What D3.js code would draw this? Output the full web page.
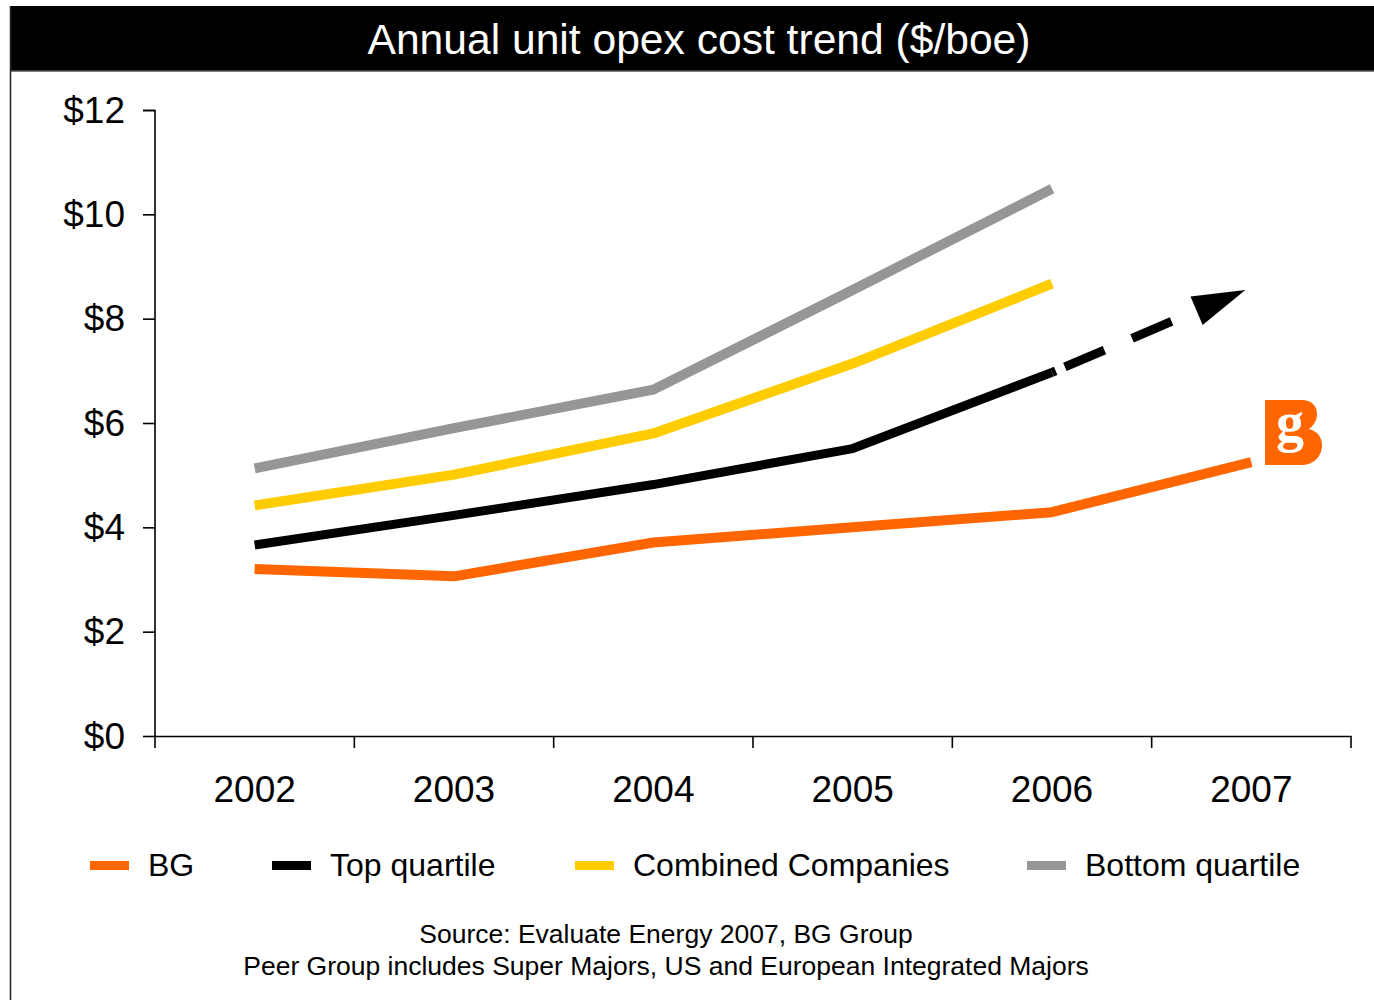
<!DOCTYPE html>
<html>
<head>
<meta charset="utf-8">
<script src="https://cdn.jsdelivr.net/npm/d3@7"></script>
<style>
  html, body { margin: 0; padding: 0; background: #fff; }
  svg { display: block; font-family: "Liberation Sans", Arial, sans-serif; }
</style>
</head>
<body>
<svg id="chart" width="1374" height="1000"></svg>
<script>
// ---- data ----
const years = ["2002", "2003", "2004", "2005", "2006", "2007"];
const yTickValues = [0, 2, 4, 6, 8, 10, 12];
const bgValues = [3.20, 3.06, 3.71, 4.00, 4.29, 5.25];
const topQuartileValues = [3.66, 4.23, 4.82, 5.51, 6.97];
const topQuartileProjection = [6.97, 8.55];   // 2006 -> 2007 (dashed arrow)
const combinedValues = [4.42, 5.01, 5.80, 7.14, 8.67];
const bottomQuartileValues = [5.13, 5.90, 6.64, 8.55, 10.49];
const seriesNames = ["BG", "Top quartile", "Combined Companies", "Bottom quartile"];
const seriesColors = ["#FF6600", "#000000", "#FFCC00", "#969696"];
const titleText = "Annual unit opex cost trend ($/boe)";
const sourceLines = ["Source: Evaluate Energy 2007, BG Group",
                     "Peer Group includes Super Majors, US and European Integrated Majors"];

const svg = d3.select("#chart");

// frame & title bar
svg.append("rect").attr("x", 10).attr("y", 6).attr("width", 1364).attr("height", 65).attr("fill", "#000");
svg.append("line").attr("x1", 10).attr("x2", 1374).attr("y1", 71).attr("y2", 71).attr("stroke", "#555").attr("stroke-width", 1.5);
svg.append("line").attr("x1", 10.5).attr("x2", 10.5).attr("y1", 6).attr("y2", 1000).attr("stroke", "#222").attr("stroke-width", 1.5);
svg.append("text").attr("x", 699).attr("y", 54).attr("text-anchor", "middle")
  .attr("fill", "#fff").attr("font-size", 42.6).text(titleText);

// scales
const x = d3.scaleBand().domain(years).range([155, 1351]).padding(0);
const y = d3.scaleLinear().domain([0, 12]).range([736, 110]);
const cx = d => x(d) + x.bandwidth() / 2;

// y axis
const yAxis = svg.append("g").attr("transform", "translate(155,0)")
  .call(d3.axisLeft(y).tickValues(yTickValues).tickSize(12).tickPadding(18).tickFormat(d => "$" + d));
yAxis.select(".domain").attr("stroke", "#000").attr("stroke-width", 1.6).attr("d", "M-12,110.5H0V736");
yAxis.selectAll(".tick line").attr("stroke", "#000").attr("stroke-width", 1.6);
yAxis.selectAll(".tick text").attr("font-size", 37).attr("fill", "#000")
  .attr("font-family", "Liberation Sans, Arial, sans-serif").attr("dy", "0.33em");

// x axis
const xAxis = svg.append("g").attr("transform", "translate(0,736)")
  .call(d3.axisBottom(x).tickSize(0).tickPadding(47));
xAxis.select(".domain").attr("stroke", "#000").attr("stroke-width", 1.6);
xAxis.selectAll(".tick text").attr("font-size", 37).attr("fill", "#000")
  .attr("font-family", "Liberation Sans, Arial, sans-serif").attr("dy", "0.5em");
const edges = years.map(d => x(d)).concat([x(years[years.length - 1]) + x.bandwidth()]);
xAxis.selectAll(".edge").data(edges).enter().append("line")
  .attr("x1", d => d).attr("x2", d => d).attr("y1", 0).attr("y2", 12)
  .attr("stroke", "#000").attr("stroke-width", 1.6);

// lines
const line = d3.line().x(d => cx(d.year)).y(d => y(d.v));
const toPts = (vals, startIdx = 0) => vals.map((v, i) => ({ year: years[i + startIdx], v }));

const series = [
  { vals: bottomQuartileValues, color: seriesColors[3], w: 10 },
  { vals: combinedValues, color: seriesColors[2], w: 10 },
  { vals: topQuartileValues, color: seriesColors[1], w: 9 },
  { vals: bgValues, color: seriesColors[0], w: 10 }
];
series.forEach(s => {
  svg.append("path").attr("d", line(toPts(s.vals))).attr("fill", "none")
    .attr("stroke", s.color).attr("stroke-width", s.w).attr("stroke-linejoin", "round");
});

// dashed projection with arrowhead
const p0 = [cx("2006"), y(topQuartileProjection[0])];
const p1 = [cx("2007") - 6, y(topQuartileProjection[1])];
const dx = p1[0] - p0[0], dy = p1[1] - p0[1];
const len = Math.hypot(dx, dy);
const u = [dx / len, dy / len], n = [-u[1], u[0]];
const headLen = 53, headHalf = 15.5;
const base = [p1[0] - u[0] * headLen, p1[1] - u[1] * headLen];
svg.append("line").attr("x1", p0[0]).attr("y1", p0[1]).attr("x2", base[0]).attr("y2", base[1])
  .attr("stroke", "#000").attr("stroke-width", 9).attr("stroke-dasharray", "4 10 43 30 43 1000");
svg.append("polygon")
  .attr("points", [p1, [base[0] + n[0] * headHalf, base[1] + n[1] * headHalf], [base[0] - n[0] * headHalf, base[1] - n[1] * headHalf]]
    .map(p => p.join(",")).join(" "))
  .attr("fill", "#000");

// BG logo
const lg = svg.append("g").attr("transform", "translate(1265,400)");
lg.append("path").attr("fill", "#FF6600")
  .attr("d", "M0,0 H36 C48,0 52,7 52,14 C52,21 48,26 44,29 C52,31 57,37 57,45 C57,56 49,65 37,65 H0 Z");
lg.append("text").attr("x", 25).attr("y", 41).attr("text-anchor", "middle")
  .attr("fill", "#fff").attr("font-size", 56).attr("font-weight", "bold")
  .attr("font-family", "Liberation Serif, DejaVu Serif, serif").text("g");

// legend
const legendItems = [
  { name: seriesNames[0], color: seriesColors[0], sx: 90, tx: 148 },
  { name: seriesNames[1], color: seriesColors[1], sx: 272, tx: 330 },
  { name: seriesNames[2], color: seriesColors[2], sx: 575, tx: 633 },
  { name: seriesNames[3], color: seriesColors[3], sx: 1027, tx: 1085 }
];
const lgd = svg.append("g");
legendItems.forEach(it => {
  lgd.append("rect").attr("x", it.sx).attr("y", 861).attr("width", 39).attr("height", 9).attr("fill", it.color);
  lgd.append("text").attr("x", it.tx).attr("y", 876).attr("font-size", 32).attr("fill", "#000").text(it.name);
});

// source
sourceLines.forEach((t, i) => {
  svg.append("text").attr("x", 666).attr("y", 943 + i * 32).attr("text-anchor", "middle")
    .attr("font-size", 26.5).attr("fill", "#000").text(t);
});
</script>
</body>
</html>
